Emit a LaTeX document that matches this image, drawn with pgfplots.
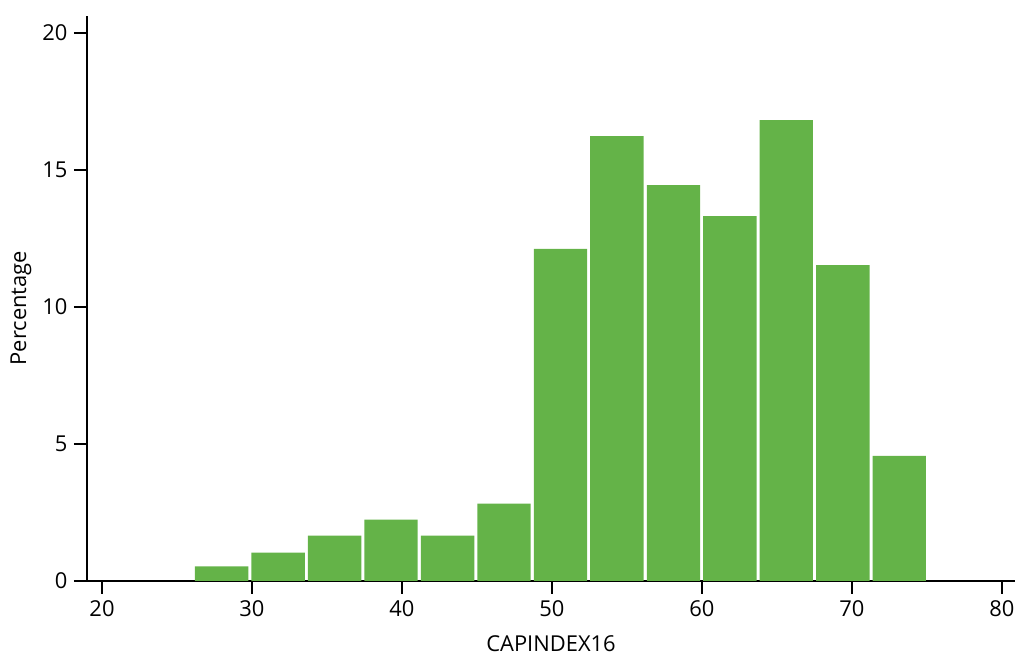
\documentclass[border=0pt]{standalone}
\usepackage{pgfplots}
\pgfplotsset{compat=1.18}
\usepackage{fontspec}
\setmainfont{Open Sans}
\definecolor{barg}{HTML}{64B348}
\begin{document}
\begin{tikzpicture}[x=1bp,y=1bp]
\useasboundingbox (-87,-74) rectangle (930,581);
\begin{axis}[at={(0,0)}, anchor=south west, scale only axis,
  width=928bp, height=565bp,
  xmin=19, xmax=80.87, ymin=0, ymax=20.62,
  axis lines*=left,
  axis line style={line width=1.3bp, -, black},
  tick style={line width=1.3bp, black},
  tick align=outside, major tick length=13bp,
  xtick={20,30,...,80}, ytick={0,5,...,20},
  /pgf/number format/assume math mode=true,
  ticklabel style={font=\fontsize{22}{25}\selectfont},
  xticklabel style={yshift=-3bp},
  yticklabel style={xshift=-3bp},
  label style={font=\fontsize{22}{25}\selectfont},
  xlabel={CAPINDEX16}, ylabel={Percentage},
  xlabel style={at={(axis description cs:0.5,-0.124)}, anchor=base, inner sep=0pt},
  ylabel style={at={(axis description cs:-0.0711,0.483)}, anchor=center},
]
\addplot[ybar, bar width=3.56, bar shift=0, fill=barg, draw=none] coordinates {
(27.98,0.53) (31.74,1.04) (35.51,1.66) (39.27,2.24) (43.04,1.66) (46.80,2.82)
(50.57,12.12) (54.33,16.24) (58.10,14.45) (61.86,13.32) (65.62,16.82)
(69.39,11.53) (73.15,4.57)};
\end{axis}
\end{tikzpicture}
\end{document}
